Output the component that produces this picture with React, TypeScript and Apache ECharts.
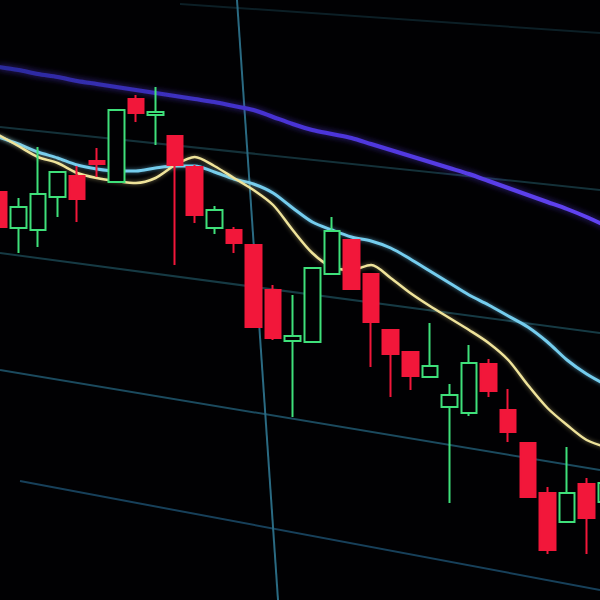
import React, { useEffect, useRef } from "react";
import * as echarts from "echarts";

// Sessions (x categories)
const sessions = [
  "S01", "S02", "S03", "S04", "S05", "S06", "S07", "S08", "S09", "S10", "S11",
  "S12", "S13", "S14", "S15", "S16", "S17", "S18", "S19", "S20", "S21", "S22",
  "S23", "S24", "S25", "S26", "S27", "S28", "S29", "S30", "S31", "S32",
];

// Candles: [open, close, low, high]
const candles = [
  [408, 373, 368, 412],
  [372, 393, 347, 402],
  [370, 406, 353, 453],
  [403, 428, 383, 428],
  [424, 401, 378, 434],
  [439, 436, 423, 452],
  [418, 490, 417, 490],
  [501, 487, 478, 505],
  [485, 488, 455, 513],
  [464, 435, 335, 464],
  [433, 385, 377, 435],
  [372, 390, 366, 394],
  [370, 357, 347, 373],
  [355, 273, 273, 355],
  [310, 262, 260, 315],
  [259, 264, 183, 305],
  [258, 332, 258, 332],
  [326, 369, 325, 383],
  [360, 311, 311, 360],
  [326, 278, 233, 326],
  [270, 246, 203, 270],
  [248, 224, 210, 248],
  [223, 234, 223, 277],
  [193, 205, 97, 216],
  [187, 237, 184, 255],
  [236, 209, 203, 241],
  [190, 168, 158, 211],
  [157, 103, 103, 157],
  [107, 50, 46, 113],
  [78, 107, 78, 153],
  [116, 82, 46, 122],
  [98, 117, 90, 125],
];

// Moving averages
const maSlow = [
  533, 530, 526, 523, 519, 516, 513, 510, 507, 504, 501, 498, 494, 490, 483, 476,
  470, 466, 462, 456, 450, 444, 438, 432, 426, 419, 412, 405, 398, 391, 383, 374,
];
const maMid = [
  463, 456, 448, 442, 435, 431, 429, 429, 432, 434, 434, 428, 421, 416, 407, 392,
  378, 370, 363, 359, 352, 341, 329, 317, 305, 295, 284, 273, 258, 240, 226, 215,
];
const maFast = [
  465, 454, 443, 437, 427, 422, 419, 417, 422, 435, 443, 434, 422, 410, 395, 370,
  347, 333, 330, 335, 322, 307, 294, 282, 270, 257, 240, 215, 192, 175, 160, 153,
];

// Screen grid lines (as seen on the monitor), endpoints in screen units
const gridTop = [[180, 596], [600, 567]];
const gridA = [[0, 473], [600, 410]];
const gridB = [[0, 347], [600, 267]];
const gridC = [[0, 230], [600, 130]];
const gridD = [[20, 119], [600, 10]];
const gridVertical = [[237, 600], [278, 0]];

export default function App() {
  const ref = useRef<HTMLDivElement>(null);

  useEffect(() => {
    if (!ref.current) return;
    const chart = echarts.init(ref.current, null, { renderer: "svg" });

    const gridLine = (data: number[][], color: string, width: number, z: number) => ({
      type: "line",
      xAxisIndex: 1,
      yAxisIndex: 1,
      data,
      symbol: "none",
      silent: true,
      z,
      lineStyle: { color, width },
    });

    chart.setOption({
      animation: false,
      backgroundColor: "#010103",
      grid: [
        { left: -11, top: 0, width: 627, height: 600, outerBoundsMode: "none", containLabel: false },
        { left: 0, top: 0, width: 600, height: 600, outerBoundsMode: "none", containLabel: false },
      ],
      xAxis: [
        { type: "category", data: sessions, gridIndex: 0, show: false, boundaryGap: true },
        { type: "value", gridIndex: 1, min: 0, max: 600, show: false },
      ],
      yAxis: [
        { type: "value", gridIndex: 0, min: 0, max: 600, show: false },
        { type: "value", gridIndex: 1, min: 0, max: 600, show: false },
      ],
      series: [
        gridLine(gridTop, "#0c1f26", 2, 1),
        gridLine(gridA, "#143139", 2, 1),
        gridLine(gridB, "#163a44", 2, 1),
        gridLine(gridC, "#1b4a5e", 2, 1),
        gridLine(gridD, "#17405a", 2, 1),
        gridLine(gridVertical, "#2a6a82", 2, 1),
        {
          type: "line",
          name: "MA slow",
          data: maSlow,
          smooth: 0.3,
          symbol: "none",
          z: 3,
          lineStyle: {
            width: 4,
            color: new echarts.graphic.LinearGradient(0, 0, 1, 0, [
              { offset: 0, color: "#2a2a9c" },
              { offset: 0.5, color: "#4a34d8" },
              { offset: 1, color: "#6244f2" },
            ]),
            shadowColor: "rgba(90,60,240,0.6)",
            shadowBlur: 6,
          },
        },
        {
          type: "line",
          name: "MA mid",
          data: maMid,
          smooth: 0.3,
          symbol: "none",
          z: 3,
          lineStyle: {
            width: 3,
            color: "#74cdee",
            shadowColor: "rgba(110,200,240,0.6)",
            shadowBlur: 4,
          },
        },
        {
          type: "line",
          name: "MA fast",
          data: maFast,
          smooth: 0.3,
          symbol: "none",
          z: 3,
          lineStyle: {
            width: 2.5,
            color: "#efe39a",
            shadowColor: "rgba(240,225,150,0.5)",
            shadowBlur: 4,
          },
        },
        {
          type: "candlestick",
          name: "Price",
          data: candles,
          barWidth: 16,
          z: 4,
          itemStyle: {
            color: "#010103",
            color0: "#f2173a",
            borderColor: "#3fe07a",
            borderColor0: "#f2173a",
            borderColorDoji: "#3fe07a",
            borderWidth: 2,
          },
        },
      ],
    });

    return () => chart.dispose();
  }, []);

  return (
    <div
      ref={ref}
      style={{ position: "fixed", left: 0, top: 0, width: 600, height: 600, background: "#010103" }}
    />
  );
}
